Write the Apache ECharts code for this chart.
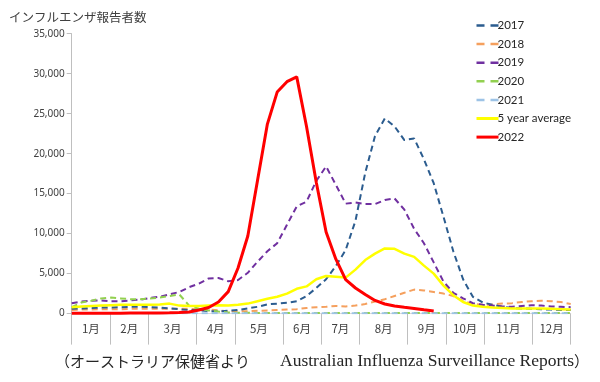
<!DOCTYPE html>
<html>
<head>
<meta charset="utf-8">
<script src="https://cdn.jsdelivr.net/npm/echarts@6/dist/echarts.min.js"></script>
<style>
html,body{margin:0;padding:0;background:#fff;}
#c{width:600px;height:382px;}
</style>
</head>
<body>
<div id="c"></div>
<script>
// Month labels and number of weeks per month
const monthLabels = ['1月','2月','3月','4月','5月','6月','7月','8月','9月','10月','11月','12月'];
const monthWeeks = [4,4,5,4,5,4,4,5,4,4,5,4];
const yTicks = [0,5000,10000,15000,20000,25000,30000,35000];

// Weekly influenza notifications (52 weeks)
const s2017 = [600,650,700,750,750,800,850,850,800,750,650,550,450,400,300,250,350,450,650,850,
  1150,1250,1350,1550,2200,3200,4300,5950,7950,11600,17600,22200,24400,23400,21700,21900,19300,16300,12100,7800,
  4300,2100,1400,1100,850,700,650,600,550,500,450,450];
const s2018 = [450,500,500,550,550,550,600,600,600,600,600,600,600,550,500,400,300,300,300,350,
  400,450,500,550,700,800,850,950,900,1000,1200,1500,1800,2200,2600,3000,2900,2700,2500,2200,
  1600,1200,1100,1150,1250,1300,1450,1550,1600,1550,1450,1200];
const s2019 = [1300,1500,1600,1650,1550,1550,1650,1750,1950,2100,2400,2700,3300,3750,4400,4450,4050,4200,5100,6500,
  7800,8800,11100,13400,14000,16600,18400,16100,13750,13900,13700,13700,14200,14400,13000,10600,8800,6400,4000,2600,
  1900,1300,1100,1000,900,850,950,1050,1000,900,850,800];
const s2020 = [800,1400,1600,1900,2000,1900,1800,1800,1900,2000,2200,2400,1000,600,400,250,150,100,100,90,
  90,80,80,80,80,70,70,70,70,60,60,60,60,60,60,60,60,60,60,60,
  60,60,60,60,60,60,60,60,60,60,60,60];
const s2021 = [40,40,40,30,30,30,30,30,30,30,30,30,30,30,30,30,30,30,30,30,
  30,30,30,30,30,30,30,30,30,30,30,30,30,30,30,30,30,30,30,30,
  30,30,30,30,30,30,30,30,30,30,30,30];
const sAvg = [800,900,950,1000,1050,1100,1100,1100,1100,1150,1250,1000,950,950,1000,1050,1000,1100,1250,1550,
  1850,2100,2500,3100,3400,4300,4700,4600,4500,5500,6700,7500,8150,8100,7500,7100,6000,5000,3500,2300,
  1450,1000,850,750,700,650,650,650,650,600,550,500];
const s2022 = [30,30,40,40,50,50,60,60,70,80,100,130,200,450,760,1450,2750,5700,9700,16700,
  23700,27700,29000,29600,23400,16400,10200,6800,4250,3200,2400,1650,1200,950,790,640,480,330];

const totalWeeks = monthWeeks.reduce((a,b)=>a+b,0);
const nPts = 52;
const scale = (nPts-1)/totalWeeks;
const bounds = [0];
monthWeeks.forEach(w => bounds.push(bounds[bounds.length-1] + w));
const tickVals = bounds.map(b => b*scale);
const labelVals = monthLabels.map((m,k) => (tickVals[k]+tickVals[k+1])/2);

function pts(arr){ return arr.map((v,i)=>[i,v]); }

const chart = echarts.init(document.getElementById('c'), null, {renderer:'canvas'});
const dashW = 2;
const mk = (name, data, color, dashed, width, z) => ({
  name, type:'line', data: pts(data), symbol:'none', smooth:false, z: z||2,
  lineStyle:{color, width, type: dashed ? [6,4] : 'solid', cap:'butt'},
  itemStyle:{color},
  emphasis:{disabled:true}, animation:false
});
const legDash = {type:[8,6], width:2.5};

chart.setOption({
  animation:false,
  title:[
    {text:'インフルエンザ報告者数', left:4, top:6,
     textStyle:{fontFamily:'"Noto Sans CJK JP"', fontSize:12.5, fontWeight:'normal', color:'#404040'}},
    {text:'{jp|（オーストラリア保健省より　　}{en|Australian Influenza Surveillance Reports}{jp|）}', left:50, top:347,
     textStyle:{fontWeight:'normal', rich:{
       jp:{fontFamily:'"Noto Sans CJK JP"', fontSize:15, fontWeight:'normal', color:'#262626'},
       en:{fontFamily:'"Liberation Serif"', fontSize:17.5, fontWeight:'normal', color:'#262626'}
     }}}
  ],
  legend:{
    orient:'vertical', left:470, top:14.5, itemWidth:22, itemHeight:12, itemGap:6.6,
    itemStyle:{color:'rgba(0,0,0,0)', borderWidth:0, opacity:0},
    textStyle:{fontFamily:'Lato', fontSize:11.5, color:'#262626', padding:[0,0,0,-6]},
    data:[
      {name:'2017', lineStyle:legDash},
      {name:'2018', lineStyle:legDash},
      {name:'2019', lineStyle:legDash},
      {name:'2020', lineStyle:legDash},
      {name:'2021', lineStyle:legDash},
      {name:'5 year average', lineStyle:{width:3}},
      {name:'2022', lineStyle:{width:3}}
    ]
  },
  grid:{left:71.7, right:29.3, top:33.7, bottom:68.4, containLabel:false},
  xAxis:{
    type:'value', min:0, max:nPts-1,
    axisLine:{show:true, lineStyle:{color:'#d9d9d9', width:1}},
    axisTick:{show:true, customValues:tickVals, length:31, lineStyle:{color:'#bfbfbf', width:1}},
    axisLabel:{show:true, customValues:labelVals, margin:9,
      fontFamily:'"Noto Sans CJK JP"', fontSize:11.5, color:'#404040',
      formatter:(v)=>{ let k=0, best=1e9; labelVals.forEach((lv,j)=>{ if(Math.abs(lv-v)<best){best=Math.abs(lv-v);k=j;} }); return monthLabels[k]; }},
    splitLine:{show:false}
  },
  yAxis:{
    type:'value', min:yTicks[0], max:yTicks[yTicks.length-1], interval:yTicks[1]-yTicks[0],
    axisLine:{show:true, lineStyle:{color:'#bfbfbf', width:1}},
    axisTick:{show:true, length:5, lineStyle:{color:'#bfbfbf'}},
    axisLabel:{fontFamily:'"Noto Sans"', fontSize:10, color:'#404040', margin:7,
      formatter:(v)=>v.toLocaleString('en-US')},
    splitLine:{show:false}
  },
  series:[
    mk('2017', s2017, '#2b5c8f', true, dashW, 3),
    mk('2018', s2018, '#f5a05e', true, dashW, 2),
    mk('2019', s2019, '#7030a0', true, dashW, 3),
    mk('2020', s2020, '#92d050', true, dashW, 4),
    mk('2021', s2021, '#9dc3e6', true, dashW, 4),
    mk('5 year average', sAvg, '#ffff00', false, 2.5, 5),
    mk('2022', s2022, '#ff0000', false, 3, 6)
  ]
});
</script>
</body>
</html>
